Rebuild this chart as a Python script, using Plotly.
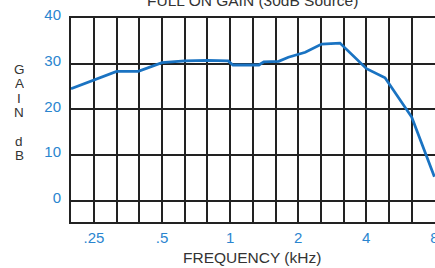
import numpy as np
import plotly.graph_objects as go

# Data
freq_khz = [0.198, 0.315, 0.393, 0.50, 0.63, 0.795, 0.98, 1.03, 1.34, 1.41, 1.64, 1.81, 2.15, 2.54, 3.06, 4.01, 4.84, 6.35, 8.0]
gain_db = [24.5, 28.3, 28.3, 30.2, 30.6, 30.7, 30.6, 29.7, 29.7, 30.4, 30.5, 31.4, 32.5, 34.3, 34.5, 28.9, 26.9, 18.3, 5.2]

x_tick_vals = [0.25, 0.5, 1, 2, 4, 8]
x_tick_text = [".25", ".5", "1", "2", "4", "8"]
third_octave_grid = [0.25 * 2 ** (k / 3) for k in range(-1, 15)]
y_tick_vals = [0, 10, 20, 30, 40]

title_text = "FULL ON GAIN (30dB Source)"
x_title = "FREQUENCY (kHz)"
y_title_letters = ["G", "A", "I", "N", "", "d", "B"]

BLUE_TICK = "#2a85cf"
BLUE_LINE = "#1a73c2"
GRID = "#222222"
TEXT = "#333333"
FONT = "Liberation Sans, Arial, sans-serif"

fig = go.Figure()
fig.add_trace(go.Scatter(x=freq_khz, y=gain_db, mode="lines",
                         line=dict(color=BLUE_LINE, width=2.8), showlegend=False,
                         hoverinfo="skip"))

W, H = 435, 268
ml, mr, mt, mb = 71, 0, 18, 46
plot_h = H - mt - mb
plot_w = W - ml - mr

fig.update_layout(
    width=W, height=H,
    margin=dict(l=ml, r=mr, t=mt, b=mb),
    paper_bgcolor="white", plot_bgcolor="white",
    font=dict(family=FONT),
    xaxis=dict(type="log", range=[np.log10(0.198), np.log10(8.05)],
               tickmode="array", tickvals=x_tick_vals, ticktext=x_tick_text,
               tickfont=dict(color=BLUE_TICK, size=15), ticks="",
               ticklabeloverflow="allow",
               showgrid=True, gridcolor=GRID, gridwidth=2,
               minor=dict(tickmode="array", tickvals=third_octave_grid,
                          showgrid=True, gridcolor=GRID, gridwidth=2, ticks=""),
               showline=True, linecolor=GRID, linewidth=2, mirror=True,
               ticklabelstandoff=1, zeroline=False, automargin=False),
    yaxis=dict(range=[-4.7, 40], tickmode="array", tickvals=y_tick_vals,
               tickfont=dict(color=BLUE_TICK, size=15), ticks="",
               ticklabeloverflow="allow", ticklabelshift=-3,
               showgrid=True, gridcolor=GRID, gridwidth=2,
               showline=True, linecolor=GRID, linewidth=2,
               ticklabelstandoff=5, zeroline=False, automargin=False),
)

# Title (partially cut off at top)
fig.add_annotation(text=title_text, xref="paper", yref="paper",
                   x=(252 - ml) / plot_w, y=(H - mb - 0) / plot_h,
                   xanchor="center", yanchor="middle", showarrow=False,
                   font=dict(size=15.5, color=TEXT, family=FONT))
# X axis title
fig.add_annotation(text=x_title, xref="paper", yref="paper",
                   x=(252 - ml) / plot_w, y=(H - mb - 257) / plot_h,
                   xanchor="center", yanchor="middle", showarrow=False,
                   font=dict(size=15.5, color=TEXT, family=FONT))
# Vertical stacked Y title
for i, ch in enumerate(y_title_letters):
    if not ch:
        continue
    py = 69 + i * 14.3
    fig.add_annotation(text=ch, xref="paper", yref="paper",
                       x=(19 - ml) / plot_w, y=(H - mb - py) / plot_h,
                       xanchor="center", yanchor="middle", showarrow=False,
                       height=14,
                       font=dict(size=13.5, color=TEXT, family=FONT))

fig.write_html("out.html", config={"displayModeBar": False},
               post_script="document.body.style.margin='0';document.body.style.overflow='hidden';")
